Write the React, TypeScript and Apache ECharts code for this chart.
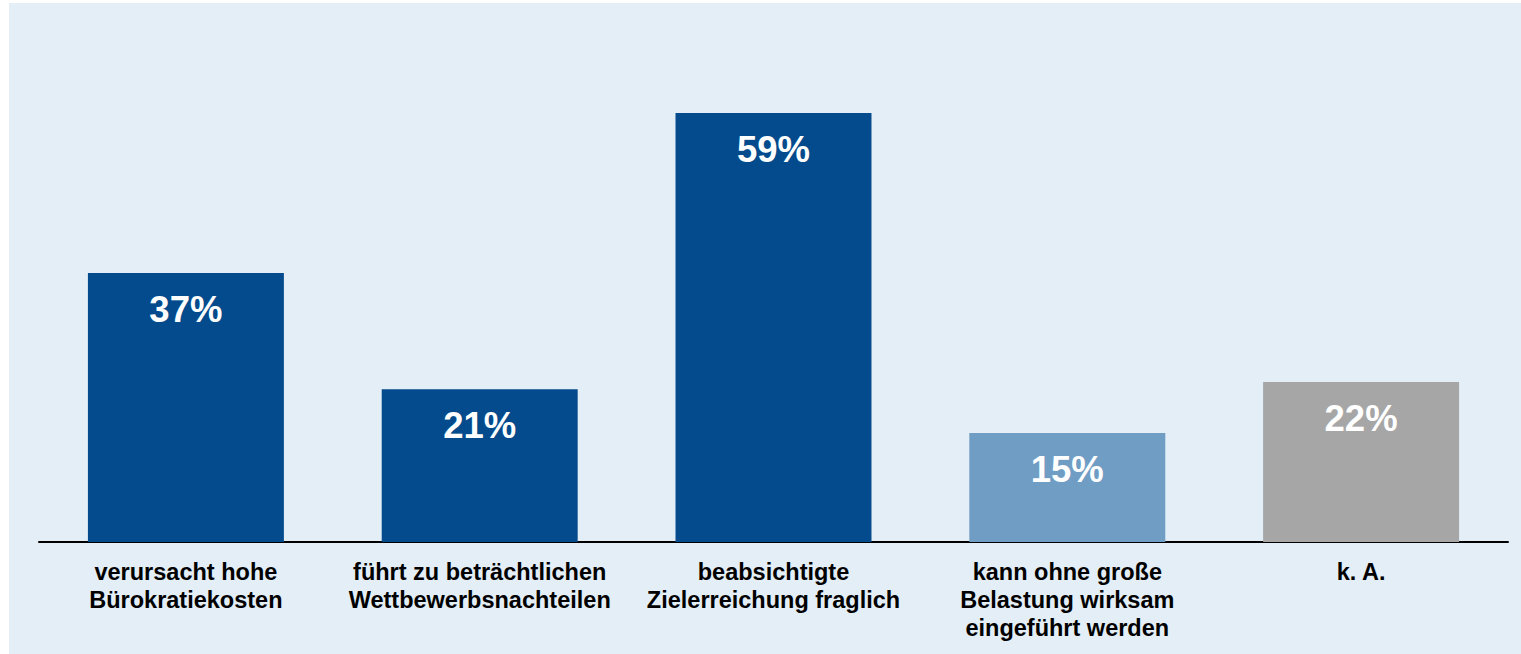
import React, { useEffect, useRef } from "react";
import * as echarts from "echarts";

const categories = [
  "verursacht hohe\nBürokratiekosten",
  "führt zu beträchtlichen\nWettbewerbsnachteilen",
  "beabsichtigte\nZielerreichung fraglich",
  "kann ohne große\nBelastung wirksam\neingeführt werden",
  "k. A.",
];
const values = [37, 21, 59, 15, 22];
const barColors = ["#034b8c", "#034b8c", "#034b8c", "#6f9dc4", "#a6a6a6"];

export default function App() {
  const ref = useRef<HTMLDivElement>(null);
  useEffect(() => {
    if (!ref.current) return;
    const chart = echarts.init(ref.current, undefined, { renderer: "svg" });
    chart.setOption({
      animation: false,
      backgroundColor: "#e3eef6",
      grid: { left: 30, right: 13, top: 30, bottom: 112, containLabel: false },
      xAxis: {
        type: "category",
        data: categories,
        axisLine: { show: true, lineStyle: { color: "#000", width: 2 } },
        axisTick: { show: false },
        axisLabel: {
          interval: 0,
          color: "#000",
          fontWeight: "bold",
          fontSize: 23.5,
          lineHeight: 28,
          margin: 16,
          fontFamily: "Liberation Sans, Arial, sans-serif",
        },
      },
      yAxis: {
        type: "value",
        min: 0,
        max: 70,
        show: false,
        splitLine: { show: false },
      },
      series: [
        {
          type: "bar",
          barWidth: "66.7%",
          data: values.map((v, i) => ({ value: v, itemStyle: { color: barColors[i] } })),
          label: {
            show: true,
            position: "insideTop",
            distance: 18,
            formatter: "{c}%",
            color: "#fff",
            fontWeight: "bold",
            fontSize: 36.5,
            fontFamily: "Liberation Sans, Arial, sans-serif",
          },
        },
      ],
    });
    return () => chart.dispose();
  }, []);
  return (
    <div
      ref={ref}
      style={{ position: "absolute", left: 9, top: 3, width: 1512, height: 651 }}
    />
  );
}
